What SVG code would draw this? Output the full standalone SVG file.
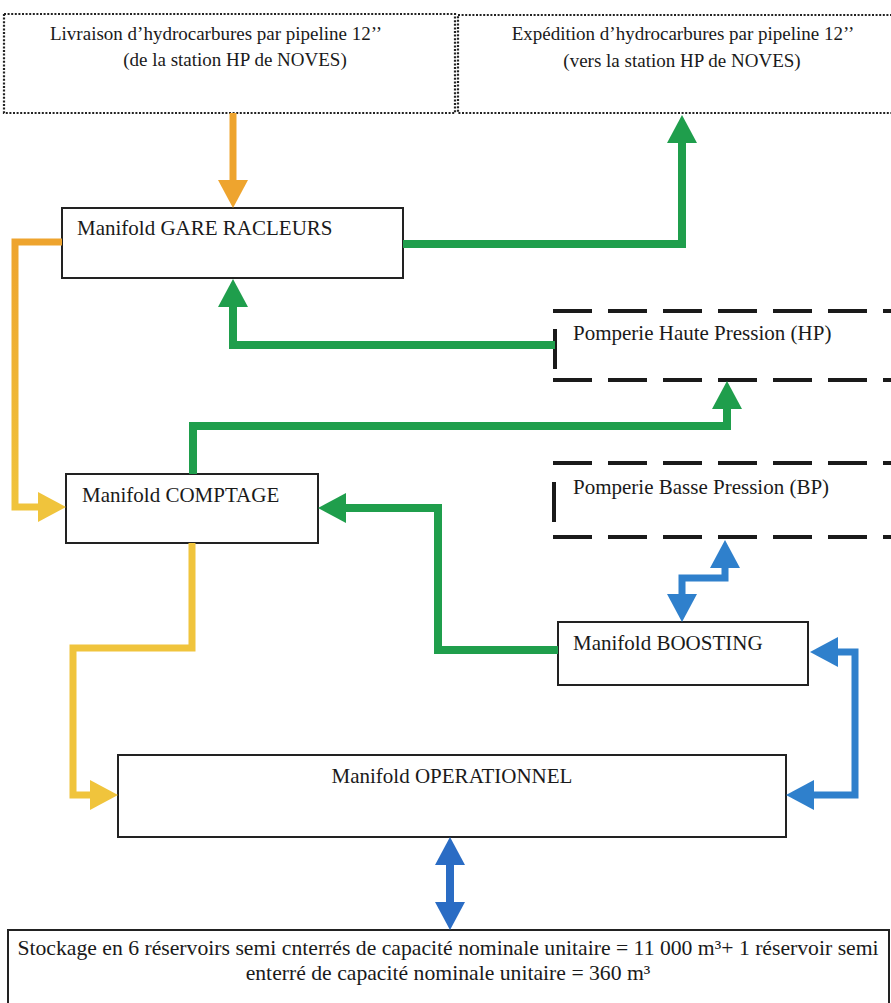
<svg xmlns="http://www.w3.org/2000/svg" width="891" height="1003" viewBox="0 0 891 1003">
<style>
.box{fill:#fff;stroke:#222;stroke-width:2}
.dot{fill:none;stroke:#222;stroke-width:2.2;stroke-dasharray:2 1.6}
.dash{fill:none;stroke:#1a1a1a;stroke-width:4;stroke-dasharray:39 16}
.bar{stroke:#1a1a1a;stroke-width:4}
.t{font-family:"Liberation Serif","Times New Roman",serif;fill:#1a1a1a}
.t19{font-size:19px}
.t21{font-size:21px}
.t22{font-size:21.7px}
.c{fill:none;stroke-linejoin:miter;stroke-linecap:butt}
.g{stroke:#1f9e4c;stroke-width:8}
.o{stroke:#eea42e;stroke-width:7}
.y{stroke:#f0c43c;stroke-width:7}
.b{stroke:#2f80cc;stroke-width:7}
.d{stroke:#2a6cc4;stroke-width:8}
</style>
<defs>
<linearGradient id="oy" gradientUnits="userSpaceOnUse" x1="0" y1="242" x2="0" y2="507">
<stop offset="0" stop-color="#eea42e"/><stop offset="1" stop-color="#f0c43c"/>
</linearGradient>
<marker id="mG" viewBox="0 0 28 30" markerWidth="28" markerHeight="30" markerUnits="userSpaceOnUse" refX="0" refY="15" orient="auto"><path d="M0,0 L28,15 L0,30 z" fill="#1f9e4c"/></marker>
<marker id="mO" viewBox="0 0 28 30" markerWidth="28" markerHeight="30" markerUnits="userSpaceOnUse" refX="0" refY="15" orient="auto"><path d="M0,0 L28,15 L0,30 z" fill="#eea42e"/></marker>
<marker id="mY" viewBox="0 0 28 30" markerWidth="28" markerHeight="30" markerUnits="userSpaceOnUse" refX="0" refY="15" orient="auto"><path d="M0,0 L28,15 L0,30 z" fill="#f0c43c"/></marker>
<marker id="mB" viewBox="0 0 28 30" markerWidth="28" markerHeight="30" markerUnits="userSpaceOnUse" refX="0" refY="15" orient="auto-start-reverse"><path d="M0,0 L28,15 L0,30 z" fill="#2f80cc"/></marker>
<marker id="mD" viewBox="0 0 28 30" markerWidth="28" markerHeight="30" markerUnits="userSpaceOnUse" refX="0" refY="15" orient="auto-start-reverse"><path d="M0,0 L28,15 L0,30 z" fill="#2a6cc4"/></marker>
</defs>
<rect width="891" height="1003" fill="#fff"/>

<g id="livraison">
<rect class="dot" x="4" y="14" width="451" height="99"/>
<text class="t t19" x="216" y="40" text-anchor="middle">Livraison d’hydrocarbures par pipeline 12’’</text>
<text class="t t19" x="235" y="66" text-anchor="middle">(de la station HP de NOVES)</text>
</g>
<g id="expedition">
<rect class="dot" x="458" y="15" width="440" height="98"/>
<text class="t t19" x="683" y="40" text-anchor="middle">Expédition d’hydrocarbures par pipeline 12’’</text>
<text class="t t19" x="682" y="67" text-anchor="middle">(vers la station HP de NOVES)</text>
</g>
<g id="gare-racleurs">
<rect class="box" x="62" y="208" width="341" height="70"/>
<text class="t t21" x="77" y="235">Manifold GARE RACLEURS</text>
</g>
<g id="pomperie-hp">
<line class="dash" x1="553" y1="311" x2="891" y2="311"/>
<line class="dash" x1="553" y1="380" x2="891" y2="380"/>
<line class="bar" x1="555" y1="329" x2="555" y2="369"/>
<text class="t t21" x="573" y="340">Pomperie Haute Pression (HP)</text>
</g>
<g id="pomperie-bp">
<line class="dash" x1="553" y1="463" x2="891" y2="463"/>
<line class="dash" x1="553" y1="537" x2="891" y2="537"/>
<line class="bar" x1="554" y1="482" x2="554" y2="522"/>
<text class="t t21" x="573" y="494">Pomperie Basse Pression (BP)</text>
</g>
<g id="comptage">
<rect class="box" x="66" y="474" width="252" height="69"/>
<text class="t t21" x="82" y="502">Manifold COMPTAGE</text>
</g>
<g id="boosting">
<rect class="box" x="558" y="622" width="250" height="63"/>
<text class="t t21" x="573" y="650">Manifold BOOSTING</text>
</g>
<g id="operationnel">
<rect class="box" x="118" y="755" width="668" height="82"/>
<text class="t t21" x="452" y="783" text-anchor="middle">Manifold OPERATIONNEL</text>
</g>
<g id="stockage">
<rect class="box" x="8" y="930" width="881" height="90"/>
<text class="t t22" x="448" y="955" text-anchor="middle">Stockage en 6 réservoirs semi cnterrés de capacité nominale unitaire = 11 000 m³+ 1 réservoir semi</text>
<text class="t t22" x="448" y="980" text-anchor="middle">enterré de capacité nominale unitaire = 360 m³</text>
</g>

<g id="connectors">
<polyline class="c o" points="233,113 233,180" marker-end="url(#mO)"/>
<polyline class="c g" points="403,244 682,244 682,143" marker-end="url(#mG)"/>
<polyline class="c g" points="555,345 233,345 233,307" marker-end="url(#mG)"/>
<polyline class="c g" points="193,474 193,426 727,426 727,409" marker-end="url(#mG)"/>
<polyline class="c" stroke="url(#oy)" stroke-width="7" points="62,242 15,242 15,507 38,507" marker-end="url(#mY)"/>
<polyline class="c g" points="558,650 438,650 438,508 346,508" marker-end="url(#mG)"/>
<polyline class="c y" points="192,543 192,648 73,648 73,795 90,795" marker-end="url(#mY)"/>
<polyline class="c b" points="725,568 725,578 682,578 682,594" marker-start="url(#mB)" marker-end="url(#mB)"/>
<polyline class="c b" points="838,652 855,652 855,795 814,795" marker-start="url(#mB)" marker-end="url(#mB)"/>
<polyline class="c d" points="450,865 450,902" marker-start="url(#mD)" marker-end="url(#mD)"/>
</g>
</svg>
